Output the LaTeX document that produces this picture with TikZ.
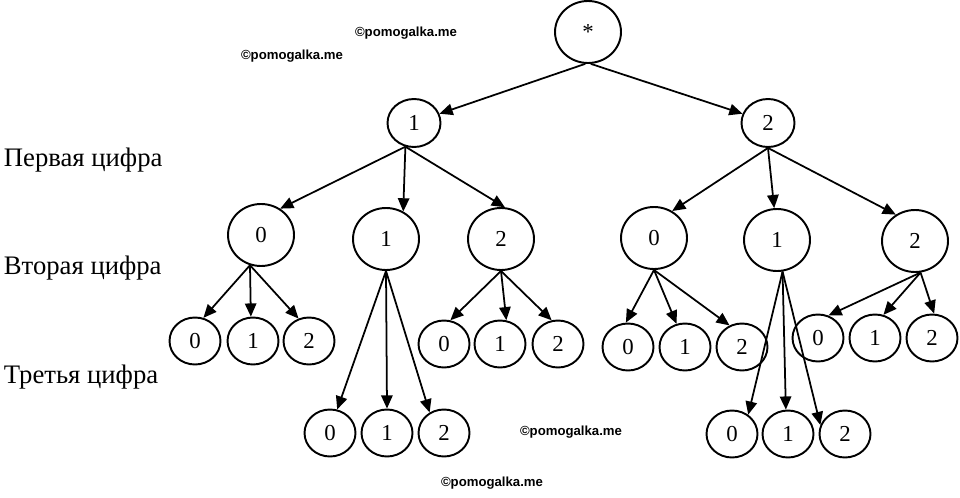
\documentclass[tikz,border=0pt]{standalone}
\usepackage{fontspec}
\setmainfont{Liberation Serif}
\newfontfamily\wmfont{Liberation Sans}
\usetikzlibrary{shapes.geometric,arrows.meta}

\begin{document}
\begin{tikzpicture}[x=0.02cm,y=-0.02cm,line width=1pt,
    big/.style={draw,ellipse,line width=1.1pt,inner sep=0pt,
      minimum width=1.32cm,minimum height=1.24cm,
      font=\fontsize{13}{15}\selectfont},
    mid/.style={big,minimum width=1.06cm,minimum height=0.96cm},
    small/.style={big,minimum width=1.02cm,minimum height=0.94cm},
    edge/.style={-{Triangle[length=7.5pt,width=6.5pt]}},
    level/.style={anchor=base west,inner sep=0pt,font=\fontsize{15.2}{18}\selectfont},
    wmark/.style={font=\wmfont\bfseries\fontsize{7.5}{9}\selectfont}]

    \useasboundingbox (0,0) rectangle (960,497);

    % root and first digit
    \node[big] (root) at (588,32) {*};
    \node[mid] (n1) at (414,123) {1};
    \node[mid] (n2) at (768,123) {2};
    \draw[edge] (root.265) -- (n1.20);
    \draw[edge] (root.275) -- (n2.160);

    % second digit
    \node[big] (n10) at (261,235) {0};
    \node[big] (n11) at (386,239) {1};
    \node[big] (n12) at (501,239) {2};
    \node[big] (n20) at (654,238) {0};
    \node[big] (n21) at (777,240) {1};
    \node[big] (n22) at (915,241) {2};
    \foreach \d/\a in {0/54,1/58,2/83}
      \draw[edge] (n1.250) -- (n1\d.\a);
    \foreach \d/\a in {0/56,1/95,2/126}
      \draw[edge] (n2.south) -- (n2\d.\a);

    % third digit
    \foreach \d/\x/\a in {0/195/70,1/253/95,2/309/115}{
      \node[small] (n10\d) at (\x,341) {\d};
      \draw[edge] (n10.250) -- (n10\d.\a);
    }
    \foreach \d/\x/\a in {0/330/73,1/387/90,2/444/125}{
      \node[small] (n11\d) at (\x,433) {\d};
      \draw[edge] (n11.south) -- (n11\d.\a);
    }
    \foreach \d/\x/\a in {0/444/75,1/500/75,2/558/105}{
      \node[small] (n12\d) at (\x,344) {\d};
      \draw[edge] (n12.south) -- (n12\d.\a);
    }
    \foreach \d/\x/\a in {0/628/95,1/685/110,2/742/120}{
      \node[small] (n20\d) at (\x,347) {\d};
      \draw[edge] (n20.south) -- (n20\d.\a);
    }
    \foreach \d/\x/\a in {0/732/50,1/788/95,2/845/160}{
      \node[small] (n21\d) at (\x,434) {\d};
      \draw[edge] (n21.280) -- (n21\d.\a);
    }
    \foreach \d/\x/\a in {0/818/65,1/875/70,2/932/85}{
      \node[small] (n22\d) at (\x,338) {\d};
      \draw[edge] (n22.280) -- (n22\d.\a);
    }

    % row labels
    \node[level] (first) at (3,166) {Первая цифра};
    \node[level] (second) at (3,274) {Вторая цифра};
    \node[level] (third) at (3,383) {Третья цифра};

    % watermarks
    \node[wmark] (wm1) at (406,33) {©pomogalka.me};
    \node[wmark] (wm2) at (292,56) {©pomogalka.me};
    \node[wmark] (wm3) at (571,432) {©pomogalka.me};
    \node[wmark] (wm4) at (492,483) {©pomogalka.me};
\end{tikzpicture}
\end{document}
